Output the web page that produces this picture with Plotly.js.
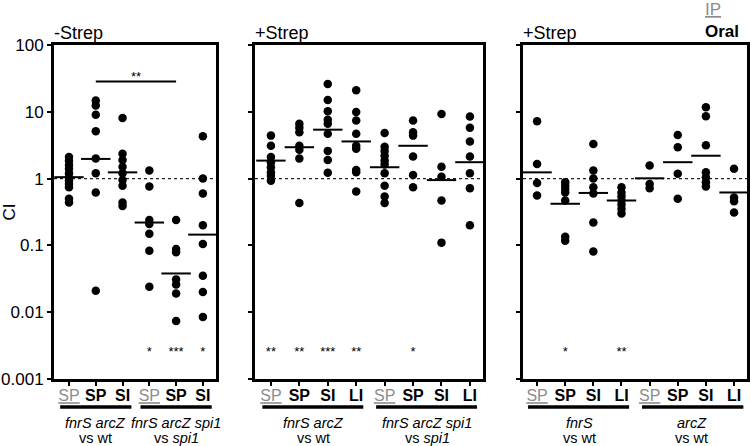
<!DOCTYPE html>
<html>
<head>
<meta charset="utf-8">
<script src="https://cdn.plot.ly/plotly-3.0.1.min.js"></script>
<style>html,body{margin:0;padding:0;background:#fff;}#chart{width:750px;height:446px;}</style>
</head>
<body>
<div id="chart"></div>
<script>
// ---------- data ----------
// Panel 1: -Strep
const p1_c0 = [2.1, 1.85, 1.6, 1.4, 1.2, 1.05, 0.93, 0.83, 0.74, 0.5, 0.44];
const p1_c1 = [14.8, 12.4, 9.0, 5.1, 2.0, 1.2, 0.62, 0.021];
const p1_c2 = [8.1, 2.35, 1.9, 1.5, 1.2, 0.95, 0.78, 0.44, 0.39];
const p1_c3 = [1.32, 0.76, 0.24, 0.21, 0.15, 0.083, 0.024];
const p1_c4 = [0.24, 0.088, 0.079, 0.031, 0.026, 0.019, 0.0074];
const p1_c5 = [4.3, 1.0, 0.6, 0.2, 0.105, 0.035, 0.02, 0.0085];
const p1_means = [1.05, 1.97, 1.24, 0.22, 0.038, 0.145];
const p1_stars = ['', '', '', '*', '***', '*'];
const p1_bracket = {from: 1, to: 4, value: 28.5, label: '**'};

// Panel 2: +Strep
const p2_c0 = [4.4, 3.1, 2.1, 1.76, 1.48, 1.24, 1.1, 0.93];
const p2_c1 = [6.6, 5.75, 4.95, 3.1, 2.7, 2.0, 0.43];
const p2_c2 = [26, 15, 10.2, 7.6, 6.6, 4.7, 2.6, 1.9, 1.22];
const p2_c3 = [21, 9.9, 7.4, 4.7, 3.1, 2.8, 1.35, 1.24, 0.64];
const p2_c4 = [4.8, 3.0, 2.6, 2.2, 1.86, 1.62, 1.2, 0.78, 0.54, 0.43];
const p2_c5 = [7.4, 4.95, 4.4, 2.14, 1.13, 0.74];
const p2_c6 = [9.3, 1.5, 1.07, 0.47, 0.11];
const p2_c7 = [8.5, 5.75, 3.6, 2.14, 1.2, 0.72, 0.2];
const p2_means = [1.86, 2.95, 5.4, 3.6, 1.48, 3.1, 0.95, 1.76];
const p2_stars = ['**', '**', '***', '**', '', '*', '', ''];

// Panel 3: +Strep (single mutants)
const p3_c0 = [7.2, 1.66, 0.86, 0.56];
const p3_c1 = [0.88, 0.78, 0.70, 0.62, 0.47, 0.135, 0.117];
const p3_c2 = [3.3, 1.32, 1.0, 0.74, 0.6, 0.22, 0.081];
const p3_c3 = [0.74, 0.62, 0.54, 0.47, 0.41, 0.35, 0.30];
const p3_c4 = [1.57, 0.83, 0.72];
const p3_c5 = [4.5, 2.95, 1.18, 0.5];
const p3_c6 = [11.7, 8.6, 3.16, 1.24, 1.05, 0.88, 0.76];
const p3_c7 = [1.4, 0.52, 0.46, 0.31];
const p3_means = [1.24, 0.42, 0.61, 0.47, 1.01, 1.76, 2.2, 0.62];
const p3_stars = ['', '*', '', '**', '', '', '', ''];

// tick labels
const SPg = '<span style="color:#8c8c8c"><u>SP</u></span>';
const SPb = '<b>SP</b>', SIb = '<b>SI</b>', LIb = '<b>LI</b>';
const p1_ticks = [SPg, SPb, SIb, SPg, SPb, SIb];
const p2_ticks = [SPg, SPb, SIb, LIb, SPg, SPb, SIb, LIb];
const p3_ticks = [SPg, SPb, SIb, LIb, SPg, SPb, SIb, LIb];

// group labels under the tick labels: [first line, second line, center, start, end]
const p1_groups = [['<i>fnrS arcZ</i>', 'vs wt', 1, -0.33, 2.33], ['<i>fnrS arcZ spi1</i>', 'vs <i>spi1</i>', 4, 2.67, 5.33]];
const p2_groups = [['<i>fnrS arcZ</i>', 'vs wt', 1.5, -0.3, 3.25], ['<i>fnrS arcZ spi1</i>', 'vs <i>spi1</i>', 5.5, 3.7, 7.25]];
const p3_groups = [['<i>fnrS</i>', 'vs wt', 1.5, -0.32, 3.27], ['<i>arcZ</i>', 'vs wt', 5.5, 3.73, 7.33]];

const panelTitles = ['-Strep', '+Strep', '+Strep'];
const yTickVals = [0.001, 0.01, 0.1, 1, 10, 100];
const yTickText = ['0.001', '0.01', '0.1', '1', '10', '100'];
const refLine = 1;
const starLevel = 0.0025;

// ---------- build ----------
const W = 750, H = 446;
const FONT = 'Arial, "Liberation Sans", sans-serif';
const panels = [
  {cols: [p1_c0, p1_c1, p1_c2, p1_c3, p1_c4, p1_c5], means: p1_means, stars: p1_stars, ticks: p1_ticks, groups: p1_groups,
   dom: [54, 216], range: [-0.56, 5.49]},
  {cols: [p2_c0, p2_c1, p2_c2, p2_c3, p2_c4, p2_c5, p2_c6, p2_c7], means: p2_means, stars: p2_stars, ticks: p2_ticks, groups: p2_groups,
   dom: [255, 483], range: [-0.56, 7.46]},
  {cols: [p3_c0, p3_c1, p3_c2, p3_c3, p3_c4, p3_c5, p3_c6, p3_c7], means: p3_means, stars: p3_stars, ticks: p3_ticks, groups: p3_groups,
   dom: [523, 747], range: [-0.5, 7.46]}
];
const yDom = [1 - 379 / H, 1 - 45 / H];

const traces = [];
const layout = {
  width: W, height: H,
  margin: {l: 0, r: 0, t: 0, b: 0},
  paper_bgcolor: '#fff', plot_bgcolor: '#fff',
  showlegend: false,
  font: {family: FONT, color: '#000', size: 15},
  shapes: [], annotations: []
};

panels.forEach((p, k) => {
  const sx = k === 0 ? '' : String(k + 1);
  const xa = 'x' + sx, ya = 'y' + sx;
  const xs = [], ys = [];
  p.cols.forEach((col, i) => col.forEach(v => { xs.push(i); ys.push(v); }));
  const idx = p.means.map((_, i) => i);

  // reference line at CI = 1
  traces.push({type: 'scatter', mode: 'lines', xaxis: xa, yaxis: ya,
    x: [p.range[0], p.range[1]], y: [refLine, refLine],
    line: {color: '#222', width: 1.3, dash: 'dot'}, hoverinfo: 'skip'});
  // points
  traces.push({type: 'scatter', mode: 'markers', xaxis: xa, yaxis: ya, x: xs, y: ys,
    marker: {color: '#000', size: 8.5, symbol: 'circle'}, cliponaxis: false});
  // means
  traces.push({type: 'scatter', mode: 'markers', xaxis: xa, yaxis: ya, x: idx, y: p.means,
    marker: {symbol: 'line-ew', size: 21, line: {color: '#000', width: 2}}});
  // stars
  traces.push({type: 'scatter', mode: 'text', xaxis: xa, yaxis: ya, x: idx, y: idx.map(() => starLevel),
    text: p.stars, textposition: 'middle center', textfont: {family: FONT, size: 13, color: '#000'}});

  layout['xaxis' + sx] = {
    domain: [p.dom[0] / W, p.dom[1] / W], anchor: ya, range: p.range, fixedrange: true,
    showgrid: false, zeroline: false, showline: true, mirror: true, linewidth: 3, linecolor: '#000',
    ticks: 'outside', ticklen: 4, tickwidth: 2, tickcolor: '#000',
    tickmode: 'array', tickvals: idx, ticktext: p.ticks, ticklabelstandoff: -4,
    tickfont: {family: FONT, size: 16, color: '#000'}
  };
  layout['yaxis' + sx] = {
    domain: yDom, anchor: xa, type: 'log', range: [-3, 2], fixedrange: true,
    showgrid: false, zeroline: false, showline: true, mirror: true, linewidth: 3, linecolor: '#000',
    ticks: 'outside', ticklen: 4, tickwidth: 2, tickcolor: '#000',
    tickmode: 'array', tickvals: yTickVals, ticktext: yTickText,
    showticklabels: k === 0,
    tickfont: {family: FONT, size: 17, color: '#000'},
    title: k === 0 ? {text: 'CI', font: {family: FONT, size: 17, color: '#000'}, standoff: 10} : {text: ''}
  };

  // group bars and labels
  p.groups.forEach(g => {
    layout.shapes.push({type: 'line', xref: xa, yref: 'paper', x0: g[3], x1: g[4],
      y0: 1 - 407 / H, y1: 1 - 407 / H, line: {color: '#000', width: 3.5}});
    layout.annotations.push({xref: xa, yref: 'paper', x: g[2], y: 1 - 423 / H, text: g[0],
      showarrow: false, xanchor: 'center', yanchor: 'middle', font: {family: FONT, size: 14.5, color: '#000'}});
    layout.annotations.push({xref: xa, yref: 'paper', x: g[2], y: 1 - 438 / H, text: g[1],
      showarrow: false, xanchor: 'center', yanchor: 'middle', font: {family: FONT, size: 14.5, color: '#000'}});
  });

  // panel title
  layout.annotations.push({xref: 'paper', yref: 'paper', x: (p.dom[0] - 2) / W, y: 1 - 33 / H,
    text: panelTitles[k], showarrow: false, xanchor: 'left', yanchor: 'middle',
    font: {family: FONT, size: 18, color: '#000'}});
});

// significance bracket in panel 1
traces.push({type: 'scatter', mode: 'lines', xaxis: 'x', yaxis: 'y',
  x: [p1_bracket.from, p1_bracket.to], y: [p1_bracket.value, p1_bracket.value],
  line: {color: '#000', width: 2}});
traces.push({type: 'scatter', mode: 'text', xaxis: 'x', yaxis: 'y',
  x: [(p1_bracket.from + p1_bracket.to) / 2], y: [p1_bracket.value * 1.15],
  text: [p1_bracket.label], textposition: 'middle center', textfont: {family: FONT, size: 13, color: '#000'}});

// route legend (top right)
layout.annotations.push({xref: 'paper', yref: 'paper', x: 703 / W, y: 1 - 10 / H, text: '<u>IP</u>',
  showarrow: false, xanchor: 'left', yanchor: 'middle', font: {family: FONT, size: 17, color: '#8c8c8c'}});
layout.annotations.push({xref: 'paper', yref: 'paper', x: 703 / W, y: 1 - 32 / H, text: '<b>Oral</b>',
  showarrow: false, xanchor: 'left', yanchor: 'middle', font: {family: FONT, size: 17, color: '#000'}});

Plotly.newPlot('chart', traces, layout, {displayModeBar: false, staticPlot: true});
</script>
</body>
</html>
